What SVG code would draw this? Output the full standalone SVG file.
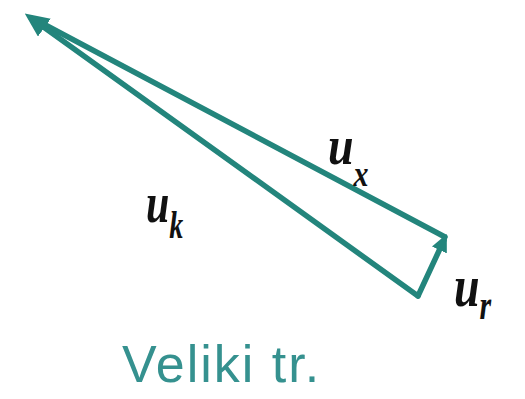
<svg xmlns="http://www.w3.org/2000/svg" width="525" height="399" viewBox="0 0 525 399">
<style>
.v{stroke:#23857c;stroke-width:5.5;fill:none;stroke-linecap:round;stroke-linejoin:round}
.lab{font-family:"Liberation Serif",serif;font-style:italic;font-weight:bold;fill:#111}
.cap{font-family:"Liberation Sans",Arial,sans-serif;fill:#35918f}
</style>
<defs>
<marker id="ah" markerWidth="4.4" markerHeight="4" refX="3" refY="2" orient="auto" markerUnits="strokeWidth">
<path d="M0,0 L4.4,2 L0,4 Z" fill="#23857c"/>
</marker>
<marker id="ah2" markerWidth="3.2" markerHeight="3" refX="2" refY="1.5" orient="auto" markerUnits="strokeWidth">
<path d="M0,0 L3.2,1.5 L0,3 Z" fill="#23857c"/>
</marker>
</defs>
<g id="connectors">
<line class="v" x1="445" y1="237" x2="36" y2="20"/>
<line class="v" x1="418" y1="296" x2="31" y2="18" marker-end="url(#ah)"/>
<line class="v" x1="418" y1="296" x2="444" y2="240" marker-end="url(#ah2)"/>
</g>
<g id="ux"><text class="lab" x="328" y="164" font-size="46" transform="translate(328 164) scale(1 1.2) translate(-328 -164)">u<tspan font-size="30" dy="18">x</tspan></text></g>
<g id="uk"><text class="lab" x="146" y="222" font-size="42" transform="translate(146 222) scale(1 1.35) translate(-146 -222)">u<tspan font-size="28" dy="12">k</tspan></text></g>
<g id="ur"><text class="lab" x="454" y="306" font-size="46" transform="translate(454 306) scale(1 1.3) translate(-454 -306)">u<tspan font-size="30" dy="10">r</tspan></text></g>
<text class="cap" x="122" y="382" font-size="52" letter-spacing="2">Veliki tr.</text>
</svg>
